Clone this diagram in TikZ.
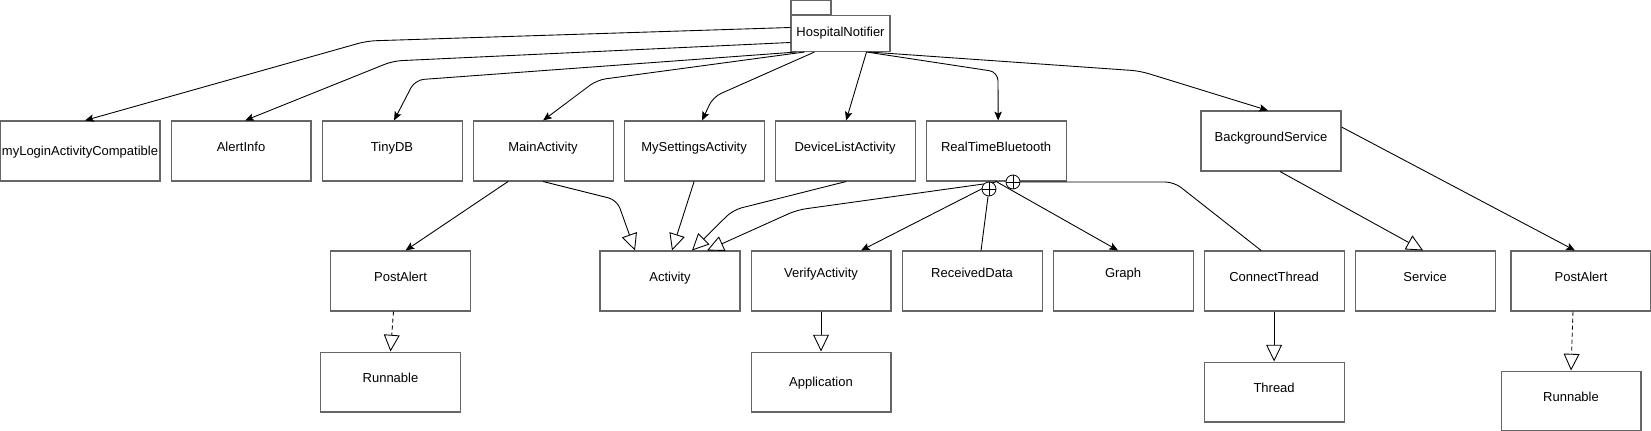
\documentclass[tikz,border=0pt]{standalone}
\usepackage{fontspec}
\setmainfont{Liberation Sans}
\usepackage{tikz}
\usetikzlibrary{arrows.meta, positioning, calc}

\begin{document}
\begin{tikzpicture}[
  x=0.02cm, y=-0.02cm,
  node distance=0.2cm,
  cls/.style={rectangle, draw=black!60, line width=0.6pt, fill=white, minimum width=2.8cm, minimum height=1.2cm, align=center, inner sep=0pt, font=\fontsize{7.4pt}{8.5pt}\selectfont, text height=0.19cm, text depth=0.16cm},
  lblmid/.style={text depth=0cm},
  lblhigh/.style={text depth=0.32cm},
  pkg/.style={rectangle, draw=black!60, line width=0.6pt, fill=white, inner sep=0pt, font=\fontsize{7.4pt}{8.5pt}\selectfont},
  nest/.style={circle, draw, fill=white, inner sep=0pt, minimum size=0.28cm, line width=0.45pt, path picture={\draw[line width=0.45pt] (path picture bounding box.north) -- (path picture bounding box.south) (path picture bounding box.west) -- (path picture bounding box.east);}},
  link/.style={line width=0.5pt, rounded corners=5pt},
  assoc/.style={link, -{Stealth[length=5pt, width=4.2pt, inset=1pt]}},
  inherit/.style={link, -{Triangle[open, length=9.5pt, width=9pt]}},
  impl/.style={inherit, dash pattern=on 2.3pt off 1.7pt},
]
\useasboundingbox (0,0) rectangle (1651,431);

% Package
\node[pkg, minimum width=1.98cm, minimum height=0.72cm] (hn) at (840.5,33.5) {HospitalNotifier};
\node[pkg, minimum width=0.8cm, minimum height=0.28cm, anchor=south west] (hntab) at (hn.north west) {};

% Row 1
\node[cls, lblmid, minimum width=3.2cm] (login) at (80,151) {myLoginActivityCompatible};
\node[cls, right=of login] (alert) {AlertInfo};
\node[cls, right=of alert] (tinydb) {TinyDB};
\node[cls, right=of tinydb] (main) {MainActivity};
\node[cls, right=of main] (settings) {MySettingsActivity};
\node[cls, right=of settings] (devlist) {DeviceListActivity};
\node[cls, right=of devlist] (rtb) {RealTimeBluetooth};
\node[cls] (bgs) at (1271,141) {BackgroundService};

% Row 2
\node[cls] (postalert) at (400.5,281) {PostAlert};
\node[cls] (activity) at (670,281) {Activity};
\node[cls, lblhigh, right=of activity] (verify) {VerifyActivity};
\node[cls, lblhigh, right=of verify] (received) {ReceivedData};
\node[cls, lblhigh, right=of received] (graph) {Graph};
\node[cls, right=of graph] (connect) {ConnectThread};
\node[cls, right=of connect] (service) {Service};
\node[cls] (postalert2) at (1581,281) {PostAlert};

% Row 3
\node[cls, below=0.8cm of postalert, xshift=-0.2cm] (runnable) {Runnable};
\node[cls, lblmid, below=0.8cm of verify] (application) {Application};
\node[cls, below=1cm of connect] (thread) {Thread};
\node[cls, below=1.18cm of postalert2, xshift=-0.2cm] (runnable2) {Runnable};

% HospitalNotifier members
\draw[assoc] ($(hn.west)+(0,-6)$) -- (367,41) -- ($(login.north)+(5,0)$);
\draw[assoc] ($(hn.west)+(0,9)$) -- (393,61) -- ($(alert.north)+(4,0)$);
\draw[assoc] ($(hn.south west)+(6,0)$) -- (415,80) -- ($(tinydb.north)+(2,0)$);
\draw[assoc] ($(hn.south west)+(14,0)$) -- (597,80) -- (main.north);
\draw[assoc] ($(hn.south west)+(24,0)$) -- (713,97) -- ($(settings.north)+(8,0)$);
\draw[assoc] ($(hn.south)+(26,0)$) -- ($(devlist.north)+(1,0)$);
\draw[assoc] ($(hn.south)+(26,0)$) -- (998,72) -- ($(rtb.north)+(2,0)$);
\draw[assoc] ($(hn.south)+(29,0)$) -- (1140,71) -- ($(bgs.north)+(-3,0)$);

% MainActivity
\draw[assoc] ($(main.south)+(-35,0)$) -- ($(postalert.north)+(5,0)$);
\draw[inherit] (main.south) -- (617,200) -- ($(activity.north)+(-35,0)$);

% Activity subclasses
\draw[inherit] (settings.south) -- ($(activity.north)+(2,0)$);
\draw[inherit] ($(devlist.south)+(1,0)$) -- (733,210) -- ($(activity.north)+(22,0)$);
\draw[inherit] ($(rtb.south)+(-2,1)$) -- (797,210) -- ($(activity.north)+(37,0)$);

% RealTimeBluetooth
\draw[assoc] (rtb.south) -- ($(verify.north)+(40,0)$);
\draw[assoc] (rtb.south) -- ($(graph.north)+(-5,0)$);
\node[nest] (nrcv) at (989,189) {};
\draw[link] (nrcv) -- ($(received.north)+(9,0)$);
\node[nest] (ncon) at (1013,182) {};
\draw[link] (ncon.east) -- (1174,182) -- ($(connect.north)+(-13,0)$);

% BackgroundService
\draw[inherit] ($(bgs.south)+(9,0)$) -- ($(service.north)+(-2,0)$);
\draw[assoc] ($(bgs.east)+(0,-14)$) -- ($(postalert2.north)+(-6,0)$);

% Row 3 links
\draw[impl] ($(postalert.south)+(-7,0)$) -- (runnable.north);
\draw[inherit] (verify.south) -- (application.north);
\draw[inherit] (connect.south) -- (thread.north);
\draw[impl] ($(postalert2.south)+(-8,0)$) -- (runnable2.north);

\end{tikzpicture}
\end{document}
